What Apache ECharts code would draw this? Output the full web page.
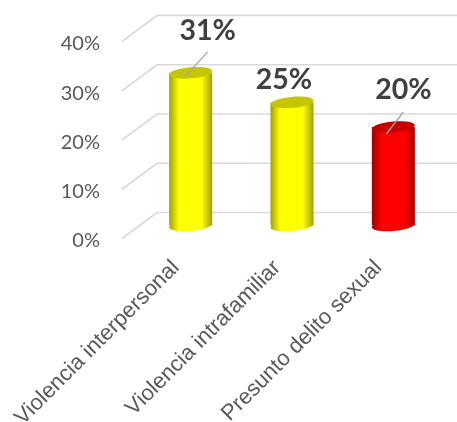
<!DOCTYPE html>
<html><head><meta charset="utf-8">
<style>html,body{margin:0;padding:0;background:#fff}#c{width:457px;height:422px;overflow:hidden}</style>
<script src="https://cdn.jsdelivr.net/npm/echarts@6/dist/echarts.min.js"></script>
</head><body><div id="c"></div>
<script>
const categories = ["Violencia interpersonal", "Violencia intrafamiliar", "Presunto delito sexual"];
const values = [31, 25, 20];
const tickValues = [0, 10, 20, 30, 40];

const barPalette = [
  {edgeL:'#a0a000', mid:'#ffff00', edgeR:'#a0a000', top:'#c6c600'},
  {edgeL:'#a0a000', mid:'#ffff00', edgeR:'#a0a000', top:'#c6c600'},
  {edgeL:'#a00000', mid:'#ff0000', edgeR:'#a80000', top:'#c80000'}
];
const labelOffsets = [[17,-42],[-8,-23],[10,-37]];
const leaderLines = [[-6,4,17,-21], null, [-7,7,10,-15]];
const depth = 13, halfW = 21.5, ry = 5.5, tilt = 0.09;

const chart = echarts.init(document.getElementById('c'), null, {renderer:'canvas'});

function renderWall(params, api){
  const cs = params.coordSys;
  const p = api.coord([0, api.value(1)]);
  const y = p[1];
  return {type:'polyline', silent:true, shape:{points:[[cs.x-18,y],[cs.x+17,y-2*depth],[cs.x+cs.width+14,y-2*depth]]},
    style:{stroke:'#d9d9d9', lineWidth:1.6, fill:null}};
}
function renderBar(params, api){
  const i = api.value(0), v = api.value(1);
  const top = api.coord([i, v]), base = api.coord([i, 0]);
  const cx = top[0], yt = top[1]-depth, yb = base[1]-depth+1;
  const c = barPalette[i];
  const grad = new echarts.graphic.LinearGradient(0,0,1,0,[
    {offset:0,color:c.edgeL},{offset:0.22,color:c.mid},{offset:0.75,color:c.mid},{offset:1,color:c.edgeR}]);
  const kids = [
    {type:'ellipse', shape:{cx:cx,cy:yb-1,rx:halfW,ry:ry}, rotation:tilt, originX:cx, originY:yb-1, style:{fill:grad}},
    {type:'rect', shape:{x:cx-halfW,y:yt,width:halfW*2,height:yb-yt-1}, style:{fill:grad}},
    {type:'ellipse', shape:{cx:cx,cy:yt,rx:halfW,ry:ry}, rotation:tilt, originX:cx, originY:yt, style:{fill:c.top}}
  ];
  const l = leaderLines[i];
  if(l) kids.push({type:'line', shape:{x1:cx+l[0],y1:yt+l[1],x2:cx+l[2],y2:yt+l[3]}, style:{stroke:'#a6a6a6',lineWidth:1.3}});
  const o = labelOffsets[i];
  kids.push({type:'text', style:{x:cx+o[0],y:yt+o[1],text:v+'%',align:'center',verticalAlign:'middle',
    font:'bold 28.5px Lato',fill:'#404040'}});
  return {type:'group', children:kids};
}

chart.setOption({
  animation:false,
  backgroundColor:'#fff',
  grid:{left:140, width:304, top:41.5, height:197, outerBoundsMode:'none'},
  xAxis:{type:'category', data:categories, axisLine:{show:false}, axisTick:{show:false},
    axisLabel:{rotate:45, interval:0, margin:11, fontFamily:'Liberation Sans', fontSize:22, color:'#595959', padding:[0,21,0,0]}},
  yAxis:{type:'value', min:0, max:40, interval:10, splitLine:{show:false}, axisLine:{show:false}, axisTick:{show:false},
    axisLabel:{margin:40, formatter:v=>'{a|'+v+'%}',
      rich:{a:{fontFamily:'Lato', fontSize:20, color:'#595959', padding:[5,0,0,0]}}}},
  series:[
    {type:'custom', name:'walls', renderItem:renderWall, clip:false, z:1, silent:true,
     data:tickValues.map(t=>[0,t]), encode:{x:0,y:1}},
    {type:'custom', name:'bars', renderItem:renderBar, clip:false, z:2,
     data:values.map((v,i)=>[i,v]), encode:{x:0,y:1}}
  ]
});
</script></body></html>
